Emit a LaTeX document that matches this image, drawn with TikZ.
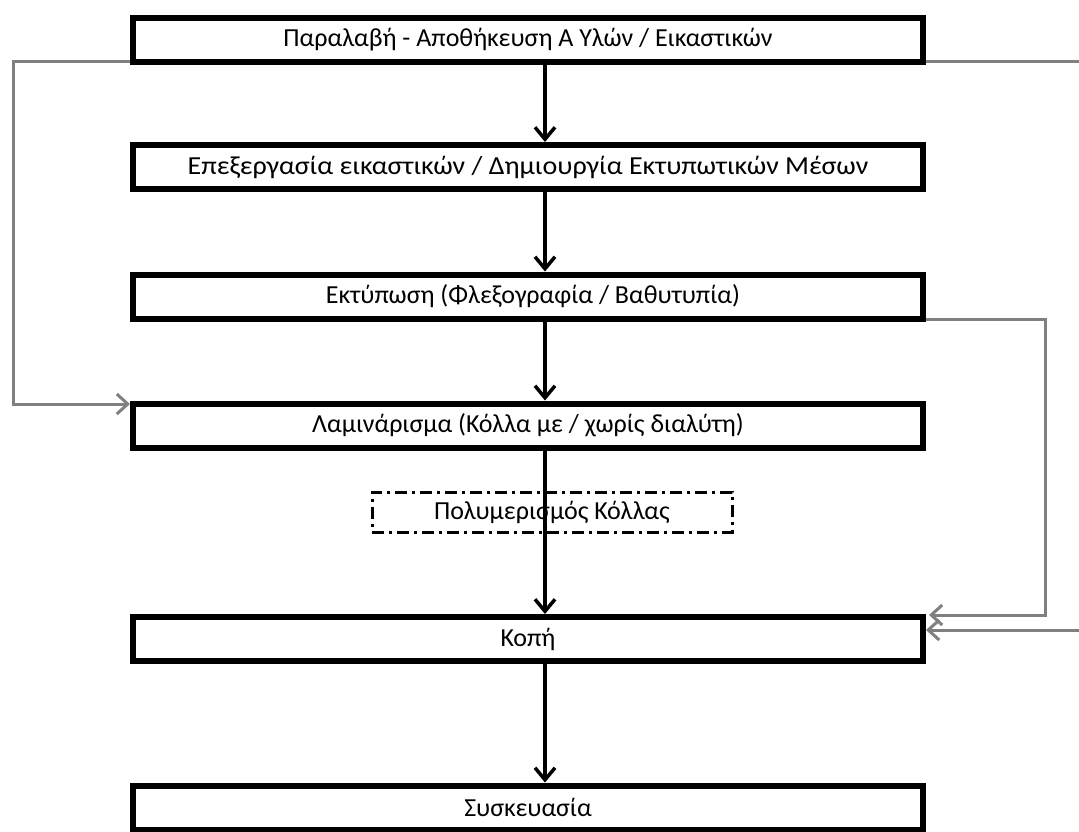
\documentclass[tikz,border=0pt]{standalone}
\usepackage{fontspec}
\setmainfont{Carlito}
\usetikzlibrary{arrows.meta,calc}
\begin{document}
\begin{tikzpicture}[x=1pt,y=-1pt,
  stage/.style={draw=black,line width=6pt,minimum width=790pt,minimum height=44pt,
    inner sep=0pt,font=\fontsize{26}{30}\selectfont,fill=white},
  flow/.style={line width=3.5pt,-{Straight Barb[length=12pt,width=20pt,line width=3.5pt]}},
  back/.style={draw=black!50,line width=3pt},
  backarrow/.style={back,-{Straight Barb[length=11pt,width=20pt,line width=3pt]}},
  aux/.style={draw=black,line width=3pt,dash pattern=on 12pt off 5pt on 3pt off 5pt,
    minimum width=360pt,minimum height=40pt,inner sep=0pt,font=\fontsize{26}{30}\selectfont}]
\useasboundingbox (0,0) rectangle (1079,831);

% corner points of the grey routes
\coordinate (lft) at (13,61);
\coordinate (rtop) at (1079,61);
\coordinate (rbend) at (1045,319);
\coordinate (rin) at (1079,630);
\coordinate (hit) at (929,615);

\node[aux] (poly) at (552,512) {Πολυμερισμός Κόλλας};

\node[stage] (b1) at (528,39.5) {Παραλαβή - Αποθήκευση Α Υλών / Εικαστικών};
\node[stage] (b2) at (528,167) {\scalebox{1.077}[1]{Επεξεργασία εικαστικών / Δημιουργία Εκτυπωτικών Μέσων}};
\node[stage] (b3) at (528,296.5) {\hspace{10pt}Εκτύπωση (Φλεξογραφία / Βαθυτυπία)};
\node[stage] (b4) at (528,425.5) {Λαμινάρισμα (Κόλλα με / χωρίς διαλύτη)};
\node[stage] (b5) at (528,639) {Κοπή};
\node[stage] (b6) at (528,807.5) {Συσκευασία};

% grey routes
\draw[backarrow] ([yshift=3.5pt]b1.south west) -- (lft) |- ([yshift=-3.5pt]b4.north west);
\draw[back] ([yshift=3.5pt]b1.south east) -- (rtop);
\draw[backarrow] ([yshift=2.5pt]b3.south east) -- (rbend) |- (hit);
\draw[backarrow] (rin) -- (rin -| b5.east);

% main flow
\foreach \a/\b in {b1/b2,b2/b3,b3/b4,b4/b5,b5/b6}
  \draw[flow] ([xshift=17pt]\a.south) -- ([xshift=17pt]\b.north);
\end{tikzpicture}
\end{document}
